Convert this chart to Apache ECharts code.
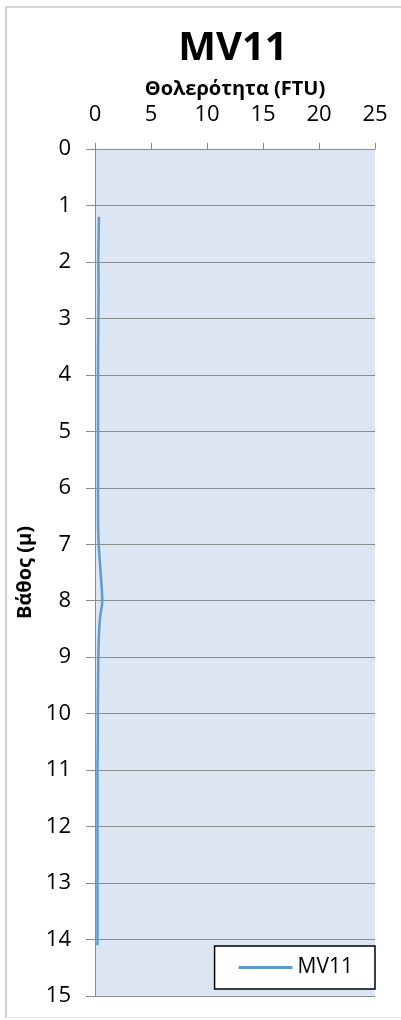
<!DOCTYPE html>
<html>
<head>
<meta charset="utf-8">
<script src="https://cdn.jsdelivr.net/npm/echarts@6/dist/echarts.min.js"></script>
<style>
html,body{margin:0;padding:0;background:#fff;}
#frame{position:absolute;left:5px;top:6px;width:400px;height:1012px;border-left:2px solid #cfcfcf;border-top:2px solid #d6d6d6;border-bottom:1px solid #e6e6e6;box-sizing:border-box;}
#chart{position:absolute;left:0;top:0;width:401px;height:1020px;}
</style>
</head>
<body>
<div id="frame"></div>
<div id="chart"></div>
<script>
const title = 'MV11';
const xAxisName = 'Θολερότητα (FTU)';
const yAxisName = 'Βάθος (μ)';
const seriesName = 'MV11';
const depth = [1.2, 1.5, 2, 2.5, 3, 3.5, 4, 4.5, 5, 5.5, 6, 6.5, 7, 7.5, 8, 8.3, 8.6, 9, 9.5, 10, 10.5, 11, 11.5, 12, 12.5, 13, 13.5, 14, 14.1];
const turbidity = [0.35, 0.33, 0.3, 0.32, 0.3, 0.28, 0.27, 0.27, 0.27, 0.27, 0.27, 0.27, 0.33, 0.5, 0.65, 0.45, 0.35, 0.3, 0.27, 0.25, 0.25, 0.22, 0.22, 0.22, 0.22, 0.22, 0.22, 0.22, 0.22];

const font = '"Open Sans", "DejaVu Sans", sans-serif';
const chart = echarts.init(document.getElementById('chart'), null, {renderer: 'canvas'});
chart.setOption({
  animation: false,
  title: {
    text: title, left: 228, top: 24, textAlign: 'center',
    textStyle: {fontFamily: font, fontSize: 40, fontWeight: 'bold', color: '#000'}
  },
  grid: {left: 95, right: 26, top: 149, bottom: 24, show: true, backgroundColor: '#dce6f2', borderWidth: 0},
  legend: {
    data: [{name: seriesName, icon: 'rect'}],
    right: 26, bottom: 31,
    backgroundColor: '#fff', borderColor: '#000', borderWidth: 1.5,
    padding: [11, 22, 11, 24],
    itemWidth: 54, itemHeight: 3, itemGap: 4,
    textStyle: {fontFamily: font, fontSize: 21, color: '#000', padding: [0, 0, 0, 0]}
  },
  xAxis: {
    type: 'value', position: 'top', min: 0, max: 25, interval: 5,
    name: xAxisName, nameLocation: 'middle', nameGap: 49,
    nameTextStyle: {fontFamily: font, fontSize: 20, fontWeight: 'bold', color: '#000'},
    axisLine: {show: true, lineStyle: {color: '#8c8c8c', width: 1}},
    axisTick: {show: true, inside: false, length: 6, lineStyle: {color: '#8c8c8c'}},
    axisLabel: {fontFamily: font, fontSize: 22, color: '#000', margin: 23},
    splitLine: {show: false}
  },
  yAxis: {
    type: 'value', inverse: true, min: 0, max: 15, interval: 1,
    name: yAxisName, nameLocation: 'middle', nameGap: 56, nameRotate: 90,
    nameTextStyle: {fontFamily: font, fontSize: 20, fontWeight: 'bold', color: '#000'},
    axisLine: {show: true, lineStyle: {color: '#8c8c8c', width: 1}},
    axisTick: {show: true, inside: false, length: 9, lineStyle: {color: '#8c8c8c'}},
    axisLabel: {fontFamily: font, fontSize: 22, color: '#000', margin: 24},
    splitLine: {show: true, lineStyle: {color: '#8c8c8c', width: 1}}
  },
  series: [{
    name: seriesName, type: 'line', smooth: 0.3, showSymbol: false,
    data: depth.map((d, i) => [turbidity[i], d]),
    lineStyle: {color: '#5b9bd5', width: 2.5},
    itemStyle: {color: '#5b9bd5'}
  }]
});
</script>
</body>
</html>
